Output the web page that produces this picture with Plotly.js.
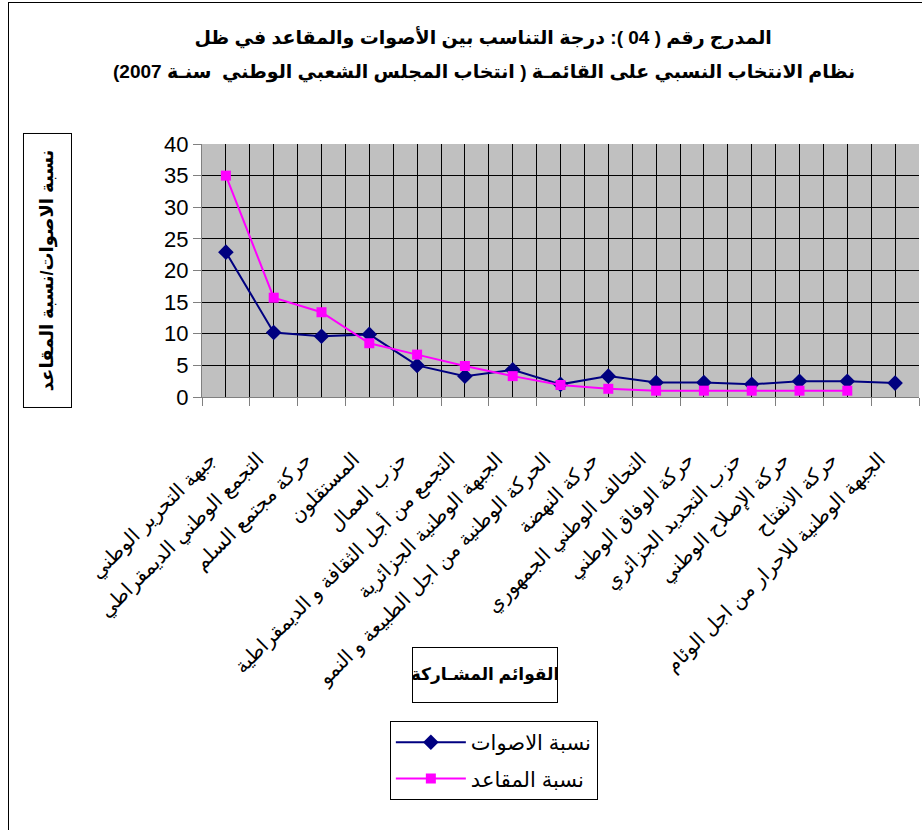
<!DOCTYPE html>
<html>
<head>
<meta charset="utf-8">
<script src="https://cdn.plot.ly/plotly-3.0.1.min.js"></script>
<style>
html,body{margin:0;padding:0;width:922px;height:830px;overflow:hidden;background:#fff;}
#frame{position:absolute;left:8px;top:2px;width:1000px;height:1000px;border:1px solid #000;box-sizing:border-box;pointer-events:none;}
#chart{position:absolute;left:0;top:0;width:922px;height:830px;}
</style>
</head>
<body>
<div id="chart"></div>
<div id="frame"></div>
<script>
// Data
const categories = [
  "جبهة التحرير الوطني",
  "التجمع الوطني الديمقراطي",
  "حركة مجتمع السلم",
  "المستقلون",
  "حزب العمال",
  "التجمع من أجل الثقافة و الديمقراطية",
  "الجبهة الوطنية الجزائرية",
  "الحركة الوطنية من اجل الطبيعة و النمو",
  "حركة النهضة",
  "التحالف الوطني الجمهوري",
  "حركة الوفاق الوطني",
  "حزب التجديد الجزائري",
  "حركة الإصلاح الوطني",
  "حركة الانفتاح",
  "الجبهة الوطنية للاحرار من اجل الوئام"
];
const votesShare = [22.9, 10.2, 9.6, 9.9, 5.0, 3.3, 4.3, 2.0, 3.3, 2.3, 2.3, 2.0, 2.5, 2.5, 2.2];
const seatsShare = [35.0, 15.7, 13.4, 8.5, 6.7, 4.9, 3.3, 1.9, 1.3, 1.0, 1.0, 1.0, 1.0, 1.0, null];
const seriesNames = ["نسبة الاصوات", "نسبة المقاعد"];
const yTicks = [0, 5, 10, 15, 20, 25, 30, 35, 40];

const titleLine1 = "المدرج رقم ( 04 ): درجة التناسب بين الأصوات والمقاعد في ظل";
const titleLine2 = "نظام الانتخاب النسبي على القائمـة ( انتخاب المجلس الشعبي الوطني  سنـة 2007)";
const yTitle = "نسبة الاصوات/نسبة المقاعد";
const xTitle = "القوائم المشـاركة";

const FONT = "Liberation Sans, Arial, DejaVu Sans, sans-serif";
const PAD = "\u00A0".repeat(4);

const idx = categories.map((_, i) => i);

const traces = [
  {
    x: categories, y: votesShare, name: seriesNames[0], type: "scatter", mode: "lines+markers",
    line: {color: "#000080", width: 2}, marker: {symbol: "diamond", size: 12, color: "#000080"},
    xaxis: "x", yaxis: "y", legendgroup: "a"
  },
  {
    x: categories, y: seatsShare, name: seriesNames[1], type: "scatter", mode: "lines+markers",
    line: {color: "#FF00FF", width: 2}, marker: {symbol: "square", size: 10, color: "#FF00FF"},
    xaxis: "x", yaxis: "y", connectgaps: false, legendgroup: "b"
  },
  {
    x: idx, y: idx.map(() => null), xaxis: "x2", yaxis: "y", type: "scatter", mode: "markers",
    showlegend: false, hoverinfo: "skip"
  }
];

const layout = {
  width: 922, height: 830,
  paper_bgcolor: "rgba(0,0,0,0)",
  plot_bgcolor: "#C0C0C0",
  margin: {l: 202, r: 3, t: 144, b: 433, pad: 0},
  font: {family: FONT, color: "#000"},
  title: {
    text: "<b>" + titleLine1 + "</b>",
    font: {family: FONT, size: 19, color: "#000"},
    x: 0.524, xanchor: "center", xref: "container",
    y: 0.955, yanchor: "middle", yref: "container"
  },
  showlegend: true,
  legend: {
    x: 0.262, xanchor: "left", y: -1.281, yanchor: "top",
    bordercolor: "#000", borderwidth: 1, bgcolor: "#fff",
    font: {family: FONT, size: 21, color: "#000"},
    tracegroupgap: 6, itemwidth: 70
  },
  xaxis: {
    type: "category",
    range: [-0.5, 14.5],
    tickmode: "array", tickvals: categories, ticktext: categories.map(c => c + PAD),
    showgrid: true, gridcolor: "#000", gridwidth: 1,
    ticks: "", showline: true, linecolor: "#808080", linewidth: 1,
    tickangle: -45,
    tickfont: {family: FONT, size: 20, color: "#000"},
    ticklabelstandoff: 26,
    zeroline: false, fixedrange: true
  },
  xaxis2: {
    overlaying: "x", anchor: "y", side: "bottom", type: "linear",
    range: [-0.5, 14.5], tickmode: "linear", tick0: 0.5, dtick: 1,
    showgrid: true, gridcolor: "#000", gridwidth: 1,
    ticks: "outside", ticklen: 8, tickcolor: "#808080", tickwidth: 1,
    showticklabels: false, showline: false, zeroline: false, fixedrange: true
  },
  yaxis: {
    range: [0, 40], tickvals: yTicks, ticktext: yTicks.map(String),
    showgrid: true, gridcolor: "#000", gridwidth: 1,
    ticks: "outside", ticklen: 8, tickcolor: "#808080",
    showline: true, linecolor: "#808080", linewidth: 1,
    tickfont: {family: FONT, size: 22, color: "#000"},
    zeroline: false, fixedrange: true
  },
  annotations: [
    {
      text: "<b>" + titleLine2 + "</b>", xref: "paper", yref: "paper",
      x: 0.393, y: 1.2846, xanchor: "center", yanchor: "middle",
      showarrow: false,
      font: {family: FONT, size: 19, color: "#000"}
    },
    {
      text: "<b>" + yTitle + "</b>", xref: "paper", yref: "paper",
      x: -0.2155, y: 0.5, xanchor: "center", yanchor: "middle",
      textangle: -90, showarrow: false,
      font: {family: FONT, size: 18, color: "#000"},
      width: 273, height: 47, borderpad: 0,
      bordercolor: "#000", borderwidth: 1, bgcolor: "#fff"
    },
    {
      text: "<b>" + xTitle + "</b>", xref: "paper", yref: "paper",
      x: 0.395, y: -1.099, xanchor: "center", yanchor: "middle",
      showarrow: false,
      font: {family: FONT, size: 17, color: "#000"},
      width: 144, height: 54, borderpad: 0,
      bordercolor: "#000", borderwidth: 1, bgcolor: "#fff"
    }
  ]
};

Plotly.newPlot("chart", traces, layout, {staticPlot: true, displayModeBar: false});
</script>
</body>
</html>
